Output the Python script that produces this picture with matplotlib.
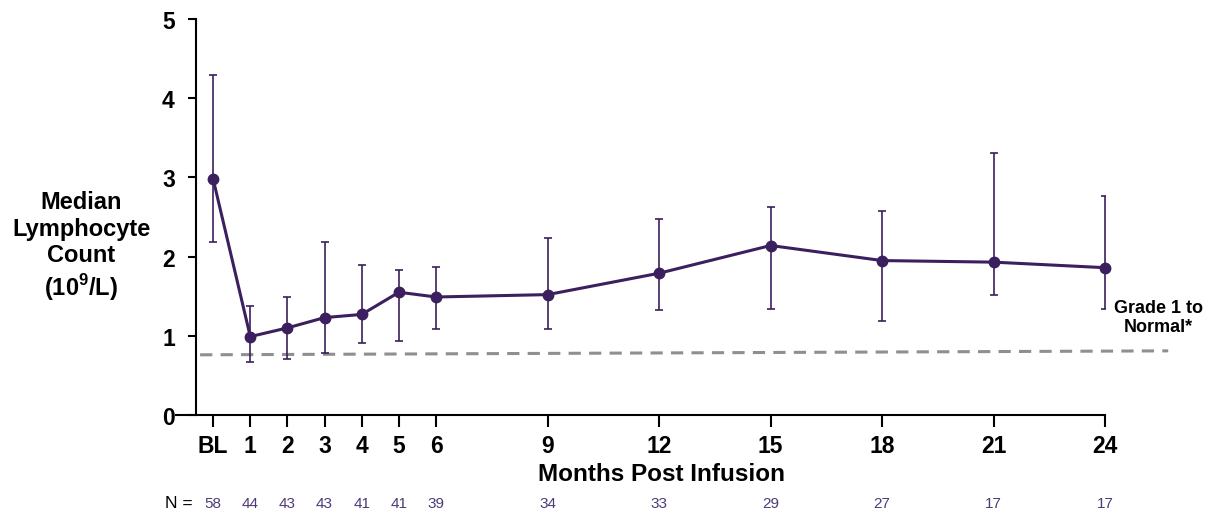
import matplotlib
matplotlib.use("Agg")
import matplotlib.pyplot as plt
import matplotlib.transforms as mtransforms

plt.rcParams['font.family'] = ['Liberation Sans', 'DejaVu Sans']
plt.rcParams['mathtext.fontset'] = 'custom'
plt.rcParams['mathtext.rm'] = 'Liberation Sans'
plt.rcParams['mathtext.bf'] = 'Liberation Sans:bold'

# months post infusion (BL drawn at 0)
months = [0, 1, 2, 3, 4, 5, 6, 9, 12, 15, 18, 21, 24]
tick_labels = ["BL", "1", "2", "3", "4", "5", "6", "9", "12", "15", "18", "21", "24"]
median = [2.98, 0.99, 1.10, 1.23, 1.27, 1.55, 1.49, 1.52, 1.79, 2.14, 1.95, 1.93, 1.86]
err_low = [2.19, 0.67, 0.71, 0.78, 0.91, 0.93, 1.08, 1.09, 1.32, 1.34, 1.19, 1.52, 1.34]
err_high = [4.29, 1.37, 1.49, 2.18, 1.89, 1.83, 1.87, 2.24, 2.47, 2.63, 2.57, 3.31, 2.77]
n_pts = [58, 44, 43, 43, 41, 41, 39, 34, 33, 29, 27, 17, 17]

# grade 1 to normal threshold (drawn slightly sloped, as in the source)
grade_x = [-0.35, 25.7]
grade_y = [0.76, 0.81]

purple = "#3b1f5e"
n_purple = "#4f3a78"

fig = plt.figure(figsize=(12.06, 5.10), dpi=100)
ax = fig.add_axes([0.1459, 0.1843, 0.9163 - 0.1459, 0.9608 - 0.1843])

ax.plot(grade_x, grade_y, color="#8f8f8f", lw=2.2, dashes=(4, 2.7), clip_on=False, zorder=1)

yerr = [[m - lo for m, lo in zip(median, err_low)],
        [hi - m for m, hi in zip(median, err_high)]]
line, caps, bars = ax.errorbar(months, median, yerr=yerr, color=purple, lw=2.2,
                               marker="o", markersize=7.5, elinewidth=1.2,
                               capsize=3, capthick=1.2, zorder=3)
line.set_clip_on(False)
for b in bars:
    b.set_clip_on(False)

ax.set_xlim(-1, 24)
ax.set_ylim(0, 5)

ax.spines["top"].set_visible(False)
ax.spines["right"].set_visible(False)
ax.spines["left"].set_position(("data", -0.47))
for s in ("left", "bottom"):
    ax.spines[s].set_linewidth(1.5)

ax.set_xticks(months)
ax.set_xticklabels(tick_labels)
ax.set_yticks([0, 1, 2, 3, 4, 5])
ax.tick_params(axis="x", length=8.5, width=1.5, pad=5, labelsize=16.5)
ax.tick_params(axis="y", length=6, width=1.5, pad=9, labelsize=16.5)
for lab in ax.get_xticklabels() + ax.get_yticklabels():
    lab.set_fontweight("bold")

fig.text(661 / 1206, 1 - 475 / 510, "Months Post Infusion", ha="center", va="center",
         fontsize=17.5, fontweight="bold")
fig.text(81 / 1206, 1 - 247 / 510, "Median\nLymphocyte\nCount\n(10$^{\\mathbf{9}}$/L)",
         ha="center", va="center", fontsize=17, fontweight="bold", linespacing=1.2)

fig.text(1158 / 1206, 1 - 318 / 510, "Grade 1 to\nNormal*", ha="center", va="center",
         fontsize=13, fontweight="bold", linespacing=1.15)

trans = mtransforms.blended_transform_factory(ax.transData, fig.transFigure)
ny = 1 - 504 / 510
for m, n in zip(months, n_pts):
    ax.text(m, ny, str(n), transform=trans, ha="center", va="center",
            fontsize=11, color=n_purple, clip_on=False)
fig.text(193 / 1206, ny, "N =", ha="right", va="center", fontsize=12.5, color="black")

fig.savefig("out.png", dpi=100)
